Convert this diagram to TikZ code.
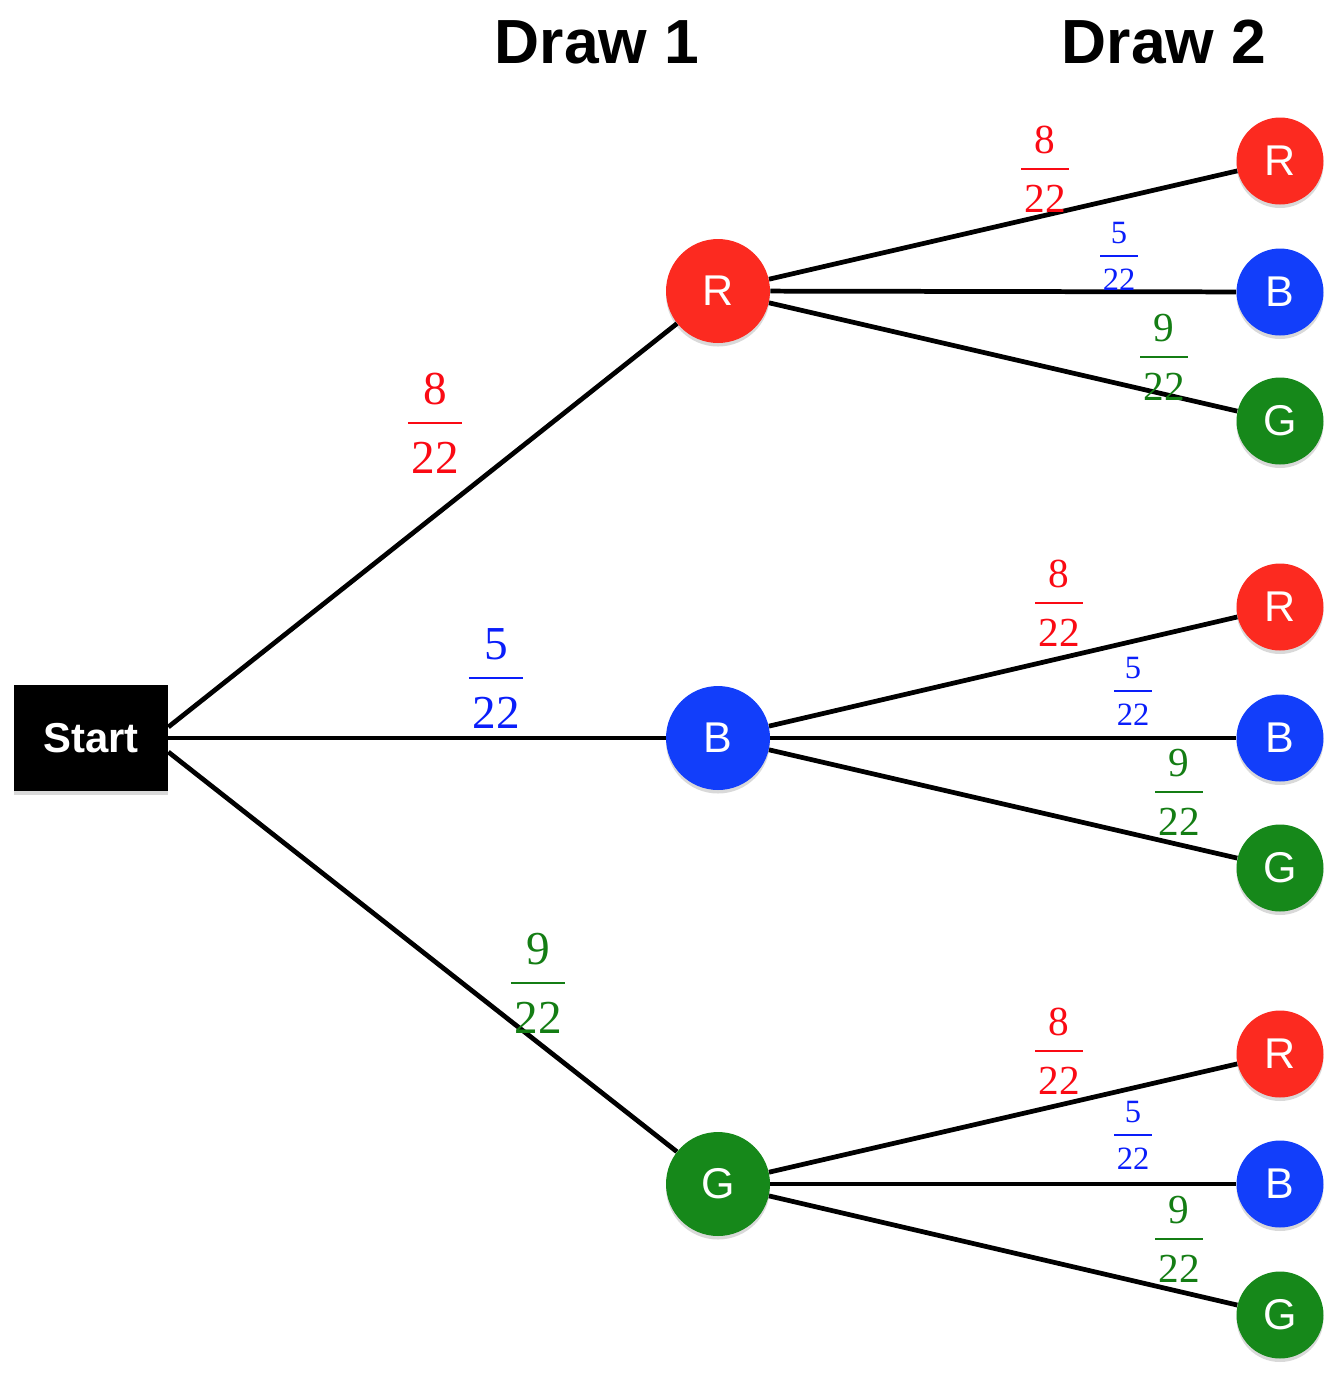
\documentclass[tikz,border=0pt]{standalone}
\usepackage{fontspec}
\setmainfont{Liberation Serif}
\setsansfont{Liberation Sans}
\usetikzlibrary{shadows}

\definecolor{ballred}{RGB}{252,42,32}
\definecolor{ballblue}{RGB}{18,62,250}
\definecolor{ballgreen}{RGB}{22,136,26}
\definecolor{fracred}{RGB}{250,10,20}
\definecolor{fracblue}{RGB}{10,30,250}
\definecolor{fracgreen}{RGB}{20,125,20}

% stacked fraction with a bar in the text colour
\newcommand{\chance}[2]{\vbox{\offinterlineskip\halign{\hfil##\hfil\cr
  \vrule height0.68em depth0.36em width0pt #1\cr
  \vrule height0.05em depth0pt width1.15em\cr
  \vrule height1.04em depth0pt width0pt #2\cr}}}

\begin{document}
\begin{tikzpicture}[x=0.02cm, y=-0.02cm,
    ball/.style={circle, inner sep=0pt, text=white,
      font=\sffamily\fontsize{24.5pt}{28pt}\selectfont,
      drop shadow={shadow xshift=0pt, shadow yshift=-2pt, opacity=0.3}},
    bigball/.style={ball, minimum size=2.08cm},
    smallball/.style={ball, minimum size=1.74cm},
    branch/.style={line width=2.7pt, black},
    heading/.style={anchor=base, font=\sffamily\bfseries\fontsize{35.5pt}{40pt}\selectfont},
    bigprob/.style={inner sep=0pt, font=\fontsize{26.9pt}{30pt}\selectfont},
    prob/.style={inner sep=0pt, font=\fontsize{23.5pt}{27pt}\selectfont},
    smallprob/.style={inner sep=0pt, font=\fontsize{18.5pt}{22pt}\selectfont}]
    \useasboundingbox (0,0) rectangle (1342,1374);

    % Headings
    \node[heading] (draw1) at (597,63) {Draw 1};
    \node[heading] (draw2) at (1164,63) {Draw 2};

    % Start box
    \node[fill=black, text=white, minimum width=3.08cm, minimum height=2.12cm, inner sep=0pt,
      font=\sffamily\bfseries\fontsize{23.8pt}{28pt}\selectfont,
      drop shadow={shadow xshift=0pt, shadow yshift=-2pt, opacity=0.3}] (start) at (91,738) {Start};

    % First draw
    \node[bigball, fill=ballred] (r) at (718,291) {R};
    \node[bigball, fill=ballblue] (b) at (718,738) {B};
    \node[bigball, fill=ballgreen] (g) at (718,1184) {G};

    % Second draw
    \node[smallball, fill=ballred] (rr) at (1280,161) {R};
    \node[smallball, fill=ballblue] (rb) at (1280,292) {B};
    \node[smallball, fill=ballgreen] (rg) at (1280,421) {G};
    \node[smallball, fill=ballred] (br) at (1280,607) {R};
    \node[smallball, fill=ballblue] (bb) at (1280,738) {B};
    \node[smallball, fill=ballgreen] (bg) at (1280,868) {G};
    \node[smallball, fill=ballred] (gr) at (1280,1054) {R};
    \node[smallball, fill=ballblue] (gb) at (1280,1184) {B};
    \node[smallball, fill=ballgreen] (gg) at (1280,1315) {G};

    % Branches from start
    \draw[branch] ([yshift=0.22cm]start.east) -- (r);
    \draw[branch] (start.east) -- (b);
    \draw[branch] ([yshift=-0.28cm]start.east) -- (g);

    % Branches to second draw
    \draw[branch] (r) -- (rr);
    \draw[branch] (r) -- (rb);
    \draw[branch] (r) -- (rg);
    \draw[branch] (b) -- (br);
    \draw[branch] (b) -- (bb);
    \draw[branch] (b) -- (bg);
    \draw[branch] (g) -- (gr);
    \draw[branch] (g) -- (gb);
    \draw[branch] (g) -- (gg);

    % Probabilities, first draw
    \node[bigprob, text=fracred] (pr) at (435,423) {\chance{8}{22}};
    \node[bigprob, text=fracblue] (pb) at (496,678) {\chance{5}{22}};
    \node[bigprob, text=fracgreen] (pg) at (538,983) {\chance{9}{22}};

    % Probabilities, second draw
    \node[prob, text=fracred] (prr) at (1045,169) {\chance{8}{22}};
    \node[smallprob, text=fracblue] (prb) at (1119,256) {\chance{5}{22}};
    \node[prob, text=fracgreen] (prg) at (1164,357) {\chance{9}{22}};
    \node[prob, text=fracred] (pbr) at (1059,603) {\chance{8}{22}};
    \node[smallprob, text=fracblue] (pbb) at (1133,691) {\chance{5}{22}};
    \node[prob, text=fracgreen] (pbg) at (1179,792) {\chance{9}{22}};
    \node[prob, text=fracred] (pgr) at (1059,1051) {\chance{8}{22}};
    \node[smallprob, text=fracblue] (pgb) at (1133,1135) {\chance{5}{22}};
    \node[prob, text=fracgreen] (pgg) at (1179,1239) {\chance{9}{22}};
\end{tikzpicture}
\end{document}
